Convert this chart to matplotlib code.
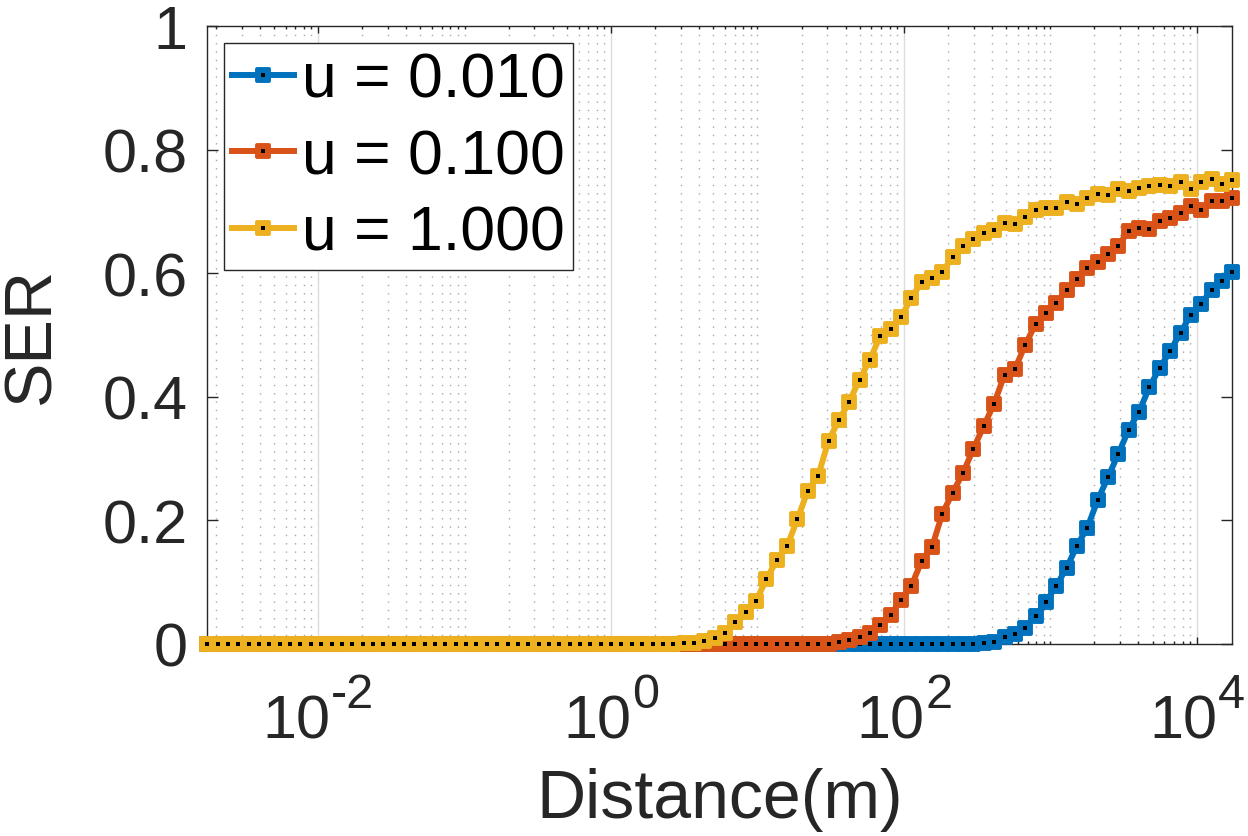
import numpy as np
import matplotlib
matplotlib.use("Agg")
import matplotlib.pyplot as plt
from matplotlib.ticker import FixedLocator, LogLocator, NullFormatter
from matplotlib.legend_handler import HandlerTuple
from matplotlib.markers import MarkerStyle

plt.rcParams['font.family'] = ['Liberation Sans', 'DejaVu Sans']

# ---- data ----
n_points = 100
x_start, x_end = 1.75e-3, 1.75e4
distance = np.geomspace(x_start, x_end, n_points)

labels = ["u = 0.010", "u = 0.100", "u = 1.000"]
colors = ["#0072BD", "#D95319", "#EDB120"]

ser_u001 = [0.0] * 75 + [
    0.0016, 0.003, 0.011, 0.016, 0.026, 0.045, 0.068, 0.094, 0.123, 0.159,
    0.188, 0.233, 0.270, 0.308, 0.347, 0.376, 0.416, 0.447, 0.474, 0.504,
    0.533, 0.551, 0.573, 0.588, 0.602]

ser_u01 = [0.0] * 61 + [
    0.003, 0.006, 0.011, 0.018, 0.031, 0.047, 0.071, 0.094, 0.134, 0.157,
    0.211, 0.245, 0.277, 0.316, 0.353, 0.389, 0.436, 0.445, 0.484, 0.518,
    0.536, 0.552, 0.573, 0.591, 0.609, 0.619, 0.632, 0.645, 0.669, 0.674,
    0.672, 0.685, 0.690, 0.698, 0.709, 0.703, 0.717, 0.717, 0.722]

ser_u1 = [0.0] * 46 + [
    0.0016, 0.0016, 0.0042, 0.0097, 0.0178, 0.035, 0.051, 0.069, 0.105, 0.135,
    0.158, 0.202, 0.248, 0.272, 0.329, 0.362, 0.392, 0.428, 0.460, 0.499,
    0.510, 0.529, 0.560, 0.586, 0.593, 0.602, 0.627, 0.645, 0.656, 0.666,
    0.670, 0.682, 0.680, 0.691, 0.703, 0.706, 0.706, 0.716, 0.713, 0.722,
    0.729, 0.726, 0.737, 0.734, 0.738, 0.742, 0.743, 0.742, 0.748, 0.737,
    0.748, 0.753, 0.745, 0.751]

series = [ser_u001, ser_u01, ser_u1]

x_major = [1e-2, 1e0, 1e2, 1e4]
x_exponents = ["-2", "0", "2", "4"]
y_ticks = [0, 0.2, 0.4, 0.6, 0.8, 1.0]
y_ticklabels = ["0", "0.2", "0.4", "0.6", "0.8", "1"]

# ---- figure ----
W, H = 1248, 837
fig = plt.figure(figsize=(W / 100, H / 100), dpi=100)
ax = fig.add_axes([207.3 / W, (H - 644.8) / H, 1025 / W, 617.5 / H])

txt = "#262626"
sq = MarkerStyle('s', joinstyle='round')
handles = []
for i, (ys, c, lab) in enumerate(zip(series, colors, labels)):
    ln, = ax.plot(distance, ys, '-', color=c, lw=4.3, marker=sq, ms=9,
                  mfc=c, mec=c, mew=2.8, clip_on=False, zorder=3 + 2 * i)
    dt, = ax.plot(distance, ys, linestyle='none', marker='s', ms=2.5,
                  mfc='black', mec='black', mew=0, clip_on=False, zorder=4 + 2 * i)
    handles.append((ln, dt))

ax.set_xscale('log')
ax.set_xlim(distance[0], distance[-1])
ax.set_ylim(0, 1)

ax.xaxis.set_major_locator(FixedLocator(x_major))
ax.xaxis.set_minor_locator(LogLocator(base=10, subs=np.arange(1, 10), numticks=100))
ax.xaxis.set_major_formatter(NullFormatter())
ax.xaxis.set_minor_formatter(NullFormatter())
ax.set_yticks(y_ticks)
ax.set_yticklabels(y_ticklabels)

ax.tick_params(axis='both', which='both', direction='in', top=True, right=True,
               colors=txt, labelsize=44, width=1.0)
ax.tick_params(axis='x', which='major', length=5)
ax.tick_params(axis='x', which='minor', length=2.5)
ax.tick_params(axis='y', which='major', length=8, pad=14)

# x tick labels as base "10" plus a raised exponent (MATLAB style)
base_fs, exp_fs = 44, 35
base_w = 1.112 * base_fs
char_w = {'-': 0.333, '0': 0.556, '2': 0.556, '4': 0.556}
xtrans = ax.get_xaxis_transform()
for v, e in zip(x_major, x_exponents):
    ew = sum(char_w[ch] for ch in e) * exp_fs
    anchor = -(base_w + ew) / 2 + base_w
    ax.annotate("10", xy=(v, 0), xycoords=xtrans, xytext=(anchor, -67.5),
                textcoords='offset points', ha='right', va='baseline',
                fontsize=base_fs, color=txt, annotation_clip=False)
    ax.annotate(e, xy=(v, 0), xycoords=xtrans, xytext=(anchor + 0.5, -45.5),
                textcoords='offset points', ha='left', va='baseline',
                fontsize=exp_fs, color=txt, annotation_clip=False)

for s in ax.spines.values():
    s.set_color(txt)
    s.set_linewidth(1.0)

ax.set_axisbelow(True)
ax.xaxis.grid(True, which='major', color='#dcdcdc', lw=1.0, ls='-')
ax.xaxis.grid(True, which='minor', color='#a8a8a8', lw=1.0, ls=(0, (1, 5)))
ax.yaxis.grid(False)

ax.set_xlabel("Distance(m)", fontsize=49, color=txt)
ax.xaxis.label.set_va('baseline')
ax.xaxis.set_label_coords(0.5, -(818 - 644.8) / 617.5)
ax.set_ylabel("SER", fontsize=48, color=txt, labelpad=28)

leg = ax.legend(handles, labels,
                handler_map={tuple: HandlerTuple(ndivide=1, pad=0)},
                loc='upper left', bbox_to_anchor=(0.0166, 0.9725), borderaxespad=0,
                fontsize=45, frameon=True, fancybox=False, edgecolor='#262626',
                framealpha=1, handlelength=1.0, handletextpad=0.13, labelspacing=0.28,
                borderpad=0.12, numpoints=1)
leg.get_frame().set_linewidth(1.0)
leg.set_zorder(20)

fig.savefig("out.png", dpi=100)
